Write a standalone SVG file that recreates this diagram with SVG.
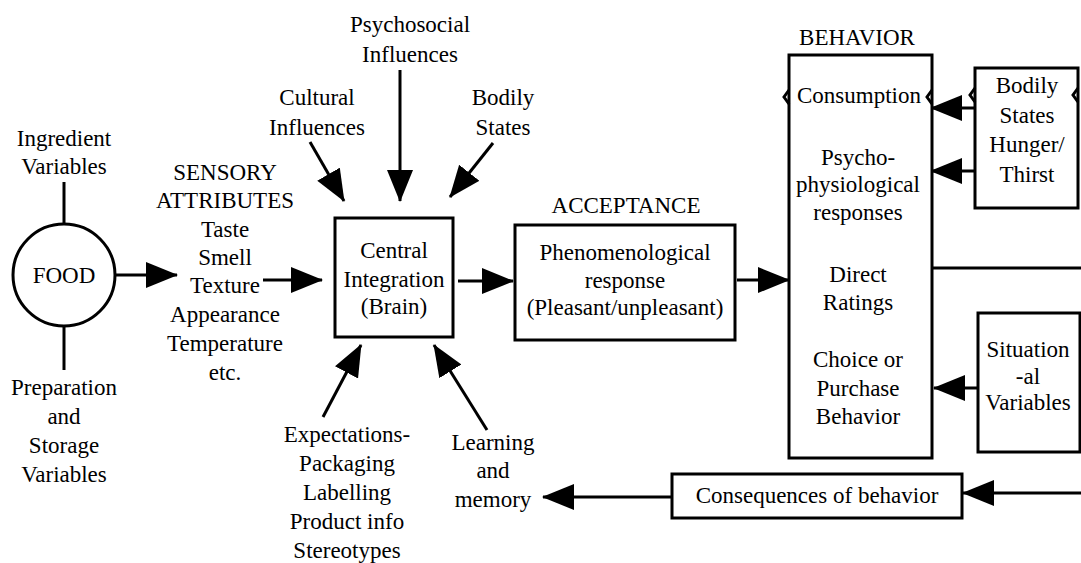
<svg xmlns="http://www.w3.org/2000/svg" width="1081" height="563" viewBox="0 0 1081 563">
<defs>
<marker id="ah" markerUnits="userSpaceOnUse" markerWidth="32" markerHeight="28" refX="31" refY="13" orient="auto">
<path d="M0,0 L32,13 L0,26 z" fill="#000"/>
</marker>
</defs>
<rect width="1081" height="563" fill="#fff"/>
<g id="connectors" fill="none" stroke="#000" stroke-width="3">
<path d="M64,182 L64,223"/>
<path d="M64,327 L64,370"/>
<path marker-end="url(#ah)" d="M115,275 L177,275"/>
<path marker-end="url(#ah)" d="M263,280 L322,280"/>
<path marker-end="url(#ah)" d="M458,281 L513,281"/>
<path marker-end="url(#ah)" d="M737,280 L789,280"/>
<path marker-end="url(#ah)" d="M975,108 L931,108"/>
<path marker-end="url(#ah)" d="M975,171 L931,171"/>
<path marker-end="url(#ah)" d="M978,388 L934,388"/>
<path d="M932,268 L1081,268"/>
<path marker-end="url(#ah)" d="M1081,493 L963,493"/>
<path marker-end="url(#ah)" d="M672,497 L543,497"/>
<path marker-end="url(#ah)" d="M310,142 L344,201"/>
<path marker-end="url(#ah)" d="M400,70 L400,201"/>
<path marker-end="url(#ah)" d="M493,143 L450,197"/>
<path marker-end="url(#ah)" d="M323,417 L361,345"/>
<path marker-end="url(#ah)" d="M487,430 L434,345"/>
</g>
<g id="ingredient"><text style="font-family:'Times New Roman';font-size:23px;text-anchor:middle" x="64" y="146">Ingredient</text><text style="font-family:'Times New Roman';font-size:23px;text-anchor:middle" x="64" y="174">Variables</text></g>
<g id="preparation"><text style="font-family:'Times New Roman';font-size:23px;text-anchor:middle" x="64" y="395">Preparation</text><text style="font-family:'Times New Roman';font-size:23px;text-anchor:middle" x="64" y="424">and</text><text style="font-family:'Times New Roman';font-size:23px;text-anchor:middle" x="64" y="453">Storage</text><text style="font-family:'Times New Roman';font-size:23px;text-anchor:middle" x="64" y="482">Variables</text></g>
<g id="food"><circle cx="64" cy="275" r="51" fill="#fff" stroke="#000" stroke-width="3"/><text style="font-family:'Times New Roman';font-size:23px;text-anchor:middle" x="64" y="283">FOOD</text></g>
<g id="sensory"><text style="font-family:'Times New Roman';font-size:23px;text-anchor:middle" x="225" y="180">SENSORY</text><text style="font-family:'Times New Roman';font-size:23px;text-anchor:middle" x="225" y="208">ATTRIBUTES</text><text style="font-family:'Times New Roman';font-size:23px;text-anchor:middle" x="225" y="237">Taste</text><text style="font-family:'Times New Roman';font-size:23px;text-anchor:middle" x="225" y="265">Smell</text><text style="font-family:'Times New Roman';font-size:23px;text-anchor:middle" x="225" y="293">Texture</text><text style="font-family:'Times New Roman';font-size:23px;text-anchor:middle" x="225" y="322">Appearance</text><text style="font-family:'Times New Roman';font-size:23px;text-anchor:middle" x="225" y="351">Temperature</text><text style="font-family:'Times New Roman';font-size:23px;text-anchor:middle" x="225" y="380">etc.</text></g>
<g id="psychosocial"><text style="font-family:'Times New Roman';font-size:23px;text-anchor:middle" x="410" y="32">Psychosocial</text><text style="font-family:'Times New Roman';font-size:23px;text-anchor:middle" x="410" y="62">Influences</text></g>
<g id="cultural"><text style="font-family:'Times New Roman';font-size:23px;text-anchor:middle" x="317" y="105">Cultural</text><text style="font-family:'Times New Roman';font-size:23px;text-anchor:middle" x="317" y="135">Influences</text></g>
<g id="bodily-top"><text style="font-family:'Times New Roman';font-size:23px;text-anchor:middle" x="503" y="105">Bodily</text><text style="font-family:'Times New Roman';font-size:23px;text-anchor:middle" x="503" y="135">States</text></g>
<g id="central"><rect x="335" y="218" width="118" height="119" fill="#fff" stroke="#000" stroke-width="3"/><text style="font-family:'Times New Roman';font-size:23px;text-anchor:middle" x="394" y="258">Central</text><text style="font-family:'Times New Roman';font-size:23px;text-anchor:middle" x="394" y="287">Integration</text><text style="font-family:'Times New Roman';font-size:23px;text-anchor:middle" x="394" y="314">(Brain)</text></g>
<g id="acceptance"><text style="font-family:'Times New Roman';font-size:23px;text-anchor:middle" x="626" y="213">ACCEPTANCE</text><rect x="515" y="225" width="220" height="115" fill="#fff" stroke="#000" stroke-width="3"/><text style="font-family:'Times New Roman';font-size:23px;text-anchor:middle" x="625" y="260">Phenomenological</text><text style="font-family:'Times New Roman';font-size:23px;text-anchor:middle" x="625" y="288">response</text><text style="font-family:'Times New Roman';font-size:23px;text-anchor:middle" x="625" y="315">(Pleasant/unpleasant)</text></g>
<g id="behavior"><text style="font-family:'Times New Roman';font-size:23px;text-anchor:middle" x="857" y="45">BEHAVIOR</text><rect x="789" y="55" width="143" height="403" fill="#fff" stroke="#000" stroke-width="3"/>
<path d="M789,90 L784,97 L789,104 M932,90 L927,97 L932,104" fill="none" stroke="#000" stroke-width="3"/>
<text style="font-family:'Times New Roman';font-size:23px;text-anchor:middle" x="859" y="103">Consumption</text><text style="font-family:'Times New Roman';font-size:23px;text-anchor:middle" x="858" y="165">Psycho-</text><text style="font-family:'Times New Roman';font-size:23px;text-anchor:middle" x="858" y="192">physiological</text><text style="font-family:'Times New Roman';font-size:23px;text-anchor:middle" x="858" y="220">responses</text><text style="font-family:'Times New Roman';font-size:23px;text-anchor:middle" x="858" y="282">Direct</text><text style="font-family:'Times New Roman';font-size:23px;text-anchor:middle" x="858" y="310">Ratings</text><text style="font-family:'Times New Roman';font-size:23px;text-anchor:middle" x="858" y="367">Choice or</text><text style="font-family:'Times New Roman';font-size:23px;text-anchor:middle" x="858" y="396">Purchase</text><text style="font-family:'Times New Roman';font-size:23px;text-anchor:middle" x="858" y="424">Behavior</text></g>
<g id="bodily-states"><rect x="975" y="68" width="103" height="140" fill="#fff" stroke="#000" stroke-width="3"/>
<path d="M975,88 L970,95 L975,102 M1078,88 L1073,95 L1078,102" fill="none" stroke="#000" stroke-width="3"/>
<text style="font-family:'Times New Roman';font-size:23px;text-anchor:middle" x="1027" y="93">Bodily</text><text style="font-family:'Times New Roman';font-size:23px;text-anchor:middle" x="1027" y="123">States</text><text style="font-family:'Times New Roman';font-size:23px;text-anchor:middle" x="1027" y="152">Hunger/</text><text style="font-family:'Times New Roman';font-size:23px;text-anchor:middle" x="1027" y="182">Thirst</text></g>
<g id="situational"><rect x="978" y="313" width="102" height="139" fill="#fff" stroke="#000" stroke-width="3"/><text style="font-family:'Times New Roman';font-size:23px;text-anchor:middle" x="1028" y="357">Situation</text><text style="font-family:'Times New Roman';font-size:23px;text-anchor:middle" x="1028" y="384">-al</text><text style="font-family:'Times New Roman';font-size:23px;text-anchor:middle" x="1028" y="410">Variables</text></g>
<g id="consequences"><rect x="672" y="474" width="290" height="44" fill="#fff" stroke="#000" stroke-width="3"/><text style="font-family:'Times New Roman';font-size:23px;text-anchor:middle" x="817" y="503">Consequences of behavior</text></g>
<g id="learning"><text style="font-family:'Times New Roman';font-size:23px;text-anchor:middle" x="493" y="450">Learning</text><text style="font-family:'Times New Roman';font-size:23px;text-anchor:middle" x="493" y="478">and</text><text style="font-family:'Times New Roman';font-size:23px;text-anchor:middle" x="493" y="507">memory</text></g>
<g id="expectations"><text style="font-family:'Times New Roman';font-size:23px;text-anchor:middle" x="347" y="442">Expectations-</text><text style="font-family:'Times New Roman';font-size:23px;text-anchor:middle" x="347" y="471">Packaging</text><text style="font-family:'Times New Roman';font-size:23px;text-anchor:middle" x="347" y="500">Labelling</text><text style="font-family:'Times New Roman';font-size:23px;text-anchor:middle" x="347" y="529">Product info</text><text style="font-family:'Times New Roman';font-size:23px;text-anchor:middle" x="347" y="558">Stereotypes</text></g>
</svg>
